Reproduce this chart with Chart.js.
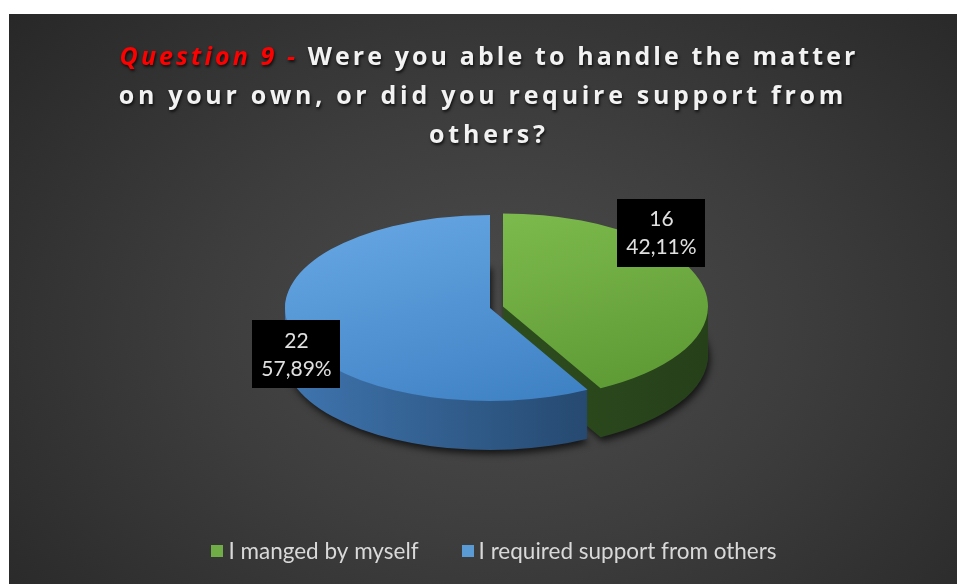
<!DOCTYPE html>
<html><head><meta charset="utf-8">
<script src="https://cdn.jsdelivr.net/npm/chart.js@4.4.1/dist/chart.umd.min.js"></script>
<style>
html,body{margin:0;padding:0;background:#fff;width:957px;height:584px;overflow:hidden;}
#wrap{position:absolute;left:9px;top:14px;width:948px;height:570px;
background:radial-gradient(ellipse 70% 85% at 52% 55%, #4c4c4c 0%, #3d3d3d 45%, #272727 100%);}
canvas{display:block;}
</style></head><body>
<div id="wrap"><canvas id="c" width="948" height="570"></canvas></div>
<script>
// ---- data ----
const categories = ['I manged by myself', 'I required support from others'];
const counts = [16, 22];
const titlePrefix = 'Question 9 - ';
const titleLines = ['Were you able to handle the matter', 'on your own, or did you require support from', 'others?'];
const sliceColors = ['#70ad47', '#5b9bd5'];

const total = counts.reduce((a, b) => a + b, 0);
const percentLabels = counts.map(v => (v / total * 100).toFixed(2).replace('.', ',') + '%');

function spacedText(ctx, text, x, y, spacing) {
  let cx = x;
  for (const ch of text) {
    ctx.fillText(ch, cx, y);
    cx += ctx.measureText(ch).width + spacing;
  }
  return cx;
}
function spacedWidth(ctx, text, spacing) {
  let w = 0;
  for (const ch of text) w += ctx.measureText(ch).width + spacing;
  return w - spacing;
}

const pie3d = {
  id: 'pie3d',
  beforeDatasetsDraw(chart, args, o) {
    const ctx = chart.ctx;
    const arcs = chart.getDatasetMeta(0).data;
    arcs.forEach((arc, i) => {
      const ex = o.explode[i] || 0;
      const mid = (arc.startAngle + arc.endAngle) / 2;
      const cx = arc.x + Math.cos(mid) * ex;
      const cy = arc.y + Math.sin(mid) * ex * o.tilt;
      const r = arc.outerRadius;
      const path = () => {
        ctx.beginPath();
        ctx.moveTo(0, 0);
        ctx.arc(0, 0, r, arc.startAngle, arc.endAngle);
        ctx.closePath();
      };
      // side walls
      for (let d = o.depth; d >= 1; d--) {
        ctx.save();
        ctx.translate(cx, cy + d);
        ctx.scale(1, o.tilt);
        const g = ctx.createLinearGradient(-r, 0, r, 0);
        g.addColorStop(0, o.side[i][0]);
        g.addColorStop(1, o.side[i][1]);
        ctx.fillStyle = g;
        if (d === o.depth) {
          ctx.shadowColor = 'rgba(0,0,0,0.7)';
          ctx.shadowBlur = 7;
          ctx.shadowOffsetX = 2;
          ctx.shadowOffsetY = 4;
        }
        path();
        ctx.fill();
        ctx.restore();
      }
      // top face
      ctx.save();
      ctx.translate(cx, cy);
      ctx.scale(1, o.tilt);
      const gt = ctx.createLinearGradient(-r * 0.6, -r, r * 0.6, r);
      gt.addColorStop(0, o.top[i][0]);
      gt.addColorStop(1, o.top[i][1]);
      ctx.fillStyle = gt;
      path();
      ctx.fill();
      ctx.restore();
      arc.$c3d = {cx, cy};
    });
    return false;
  },
  afterDraw(chart, args, o) {
    const ctx = chart.ctx;
    const arcs = chart.getDatasetMeta(0).data;
    ctx.save();
    ctx.font = o.labelFont;
    ctx.textAlign = 'center';
    ctx.textBaseline = 'middle';
    arcs.forEach((arc, i) => {
      const c = arc.$c3d;
      if (!c) return;
      const p = o.labelPlace[i];
      const ang = (arc.startAngle + arc.endAngle) / 2 + p.turn * Math.PI / 180;
      const x = c.cx + Math.cos(ang) * arc.outerRadius * p.reach;
      const y = c.cy + Math.sin(ang) * arc.outerRadius * p.reach * o.tilt;
      const l1 = String(chart.data.datasets[0].data[i]);
      const l2 = percentLabels[i];
      const w = Math.max(ctx.measureText(l1).width, ctx.measureText(l2).width) + 2 * o.boxPadX;
      const h = 2 * o.lineH + 2 * o.boxPadY;
      ctx.fillStyle = '#000';
      ctx.fillRect(Math.round(x - w / 2), Math.round(y - h / 2), Math.round(w), Math.round(h));
      ctx.fillStyle = '#e0e0e0';
      ctx.fillText(l1, x, y - o.lineH / 2 + 1);
      ctx.fillText(l2, x, y + o.lineH / 2 + 1);
    });
    ctx.restore();
  }
};

const titleLegend = {
  id: 'titleLegend',
  afterDraw(chart, args, o) {
    const ctx = chart.ctx;
    const W = chart.width;
    ctx.save();
    ctx.textBaseline = 'alphabetic';
    ctx.textAlign = 'left';
    ctx.shadowColor = 'rgba(0,0,0,0.75)';
    ctx.shadowBlur = 3;
    ctx.shadowOffsetX = 1;
    ctx.shadowOffsetY = 2;
    // line 1 mixed
    let sp = o.spacing[0];
    ctx.font = o.italicFont;
    const wp = spacedWidth(ctx, titlePrefix, sp) + sp;
    ctx.font = o.font;
    const w1 = spacedWidth(ctx, titleLines[0], sp);
    let x = W / 2 + o.shiftX[0] - (wp + w1) / 2;
    ctx.font = o.italicFont;
    ctx.fillStyle = '#ff0000';
    x = spacedText(ctx, titlePrefix, x, o.baselines[0], sp);
    ctx.font = o.font;
    ctx.fillStyle = '#f2f2f2';
    spacedText(ctx, titleLines[0], x, o.baselines[0], sp);
    for (let k = 1; k < titleLines.length; k++) {
      sp = o.spacing[k];
      const w = spacedWidth(ctx, titleLines[k], sp);
      spacedText(ctx, titleLines[k], W / 2 + o.shiftX[k] - w / 2, o.baselines[k], sp);
    }
    ctx.restore();

    // legend
    ctx.save();
    ctx.font = o.legendFont;
    ctx.textBaseline = 'middle';
    const items = chart.data.labels.map((t, i) => ({t, c: chart.data.datasets[0].backgroundColor[i], w: ctx.measureText(t).width}));
    const totalW = items.reduce((s, it) => s + o.box + o.boxGap + it.w, 0) + o.itemGap * (items.length - 1);
    let lx = W / 2 + o.legendShiftX - totalW / 2;
    items.forEach(it => {
      ctx.fillStyle = it.c;
      ctx.fillRect(Math.round(lx), Math.round(o.legendY - o.box / 2), o.box, o.box);
      lx += o.box + o.boxGap;
      ctx.fillStyle = '#d9d9d9';
      ctx.fillText(it.t, lx, o.legendY + 1);
      lx += it.w + o.itemGap;
    });
    ctx.restore();
  }
};

new Chart(document.getElementById('c'), {
  type: 'pie',
  data: {
    labels: categories,
    datasets: [{data: counts, backgroundColor: sliceColors, borderWidth: 0}]
  },
  options: {
    responsive: false,
    animation: false,
    layout: {padding: {left: 276, right: 262, top: 89, bottom: 71}},
    plugins: {
      legend: {display: false},
      tooltip: {enabled: false},
      title: {display: false},
      pie3d: {
        tilt: 0.4537, depth: 49, explode: [13.4, 0],
        top: [['#82bf50', '#5d9934'], ['#65a5e2', '#3c7fc2']],
        side: [['#355a22', '#26401a'], ['#3f75af', '#1d3a5a']],
        labelFont: '21px Lato', lineH: 28, boxPadX: 9, boxPadY: 6,
        labelPlace: [{turn: -31.6, reach: 1.109}, {turn: -13.5, reach: 1.066}]
      },
      titleLegend: {
        font: 'bold 25px "Open Sans"', italicFont: 'italic bold 25px "Open Sans"',
        spacing: [3.1, 3.7, 3.8], baselines: [51, 90, 129], shiftX: [4.5, -2, 4],
        legendFont: '22.5px Lato', legendY: 537, box: 12, boxGap: 5, itemGap: 43, legendShiftX: 11
      }
    }
  },
  plugins: [pie3d, titleLegend]
});
</script>
</body></html>
